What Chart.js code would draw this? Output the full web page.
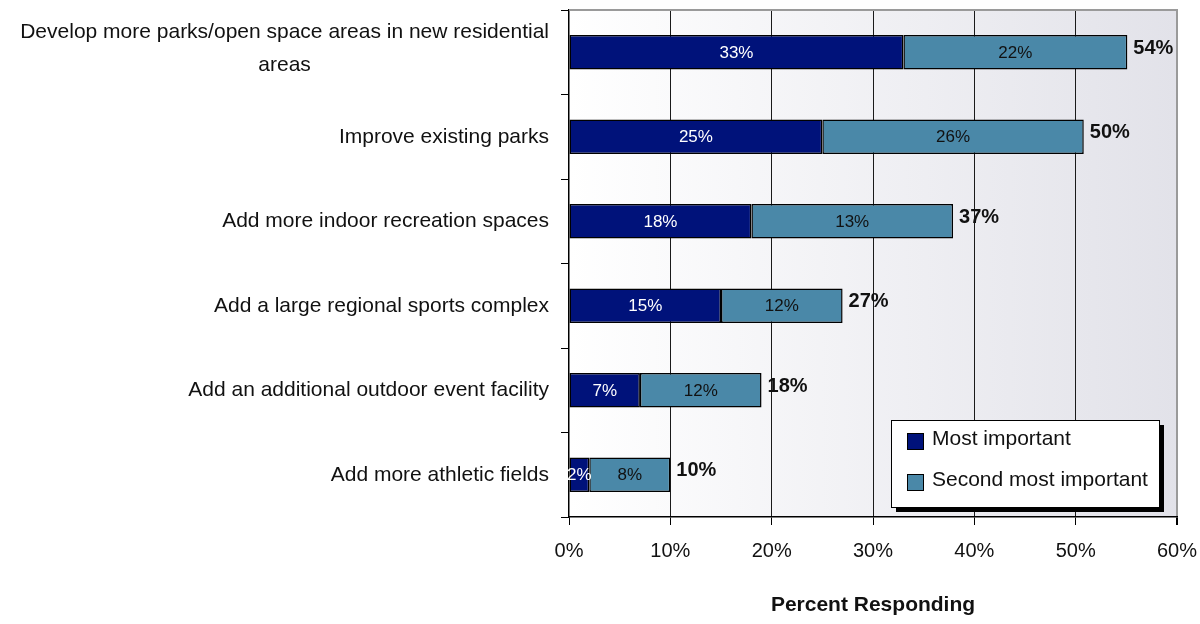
<!DOCTYPE html>
<html><head><meta charset="utf-8">
<script src="https://cdn.jsdelivr.net/npm/chart.js@4/dist/chart.umd.min.js"></script>
<style>html,body{margin:0;padding:0;background:#fff}#wrap{width:1200px;height:624px}</style>
</head><body><div id="wrap"><canvas id="c" width="1200" height="624"></canvas></div>
<script>
const categories = [
  ["Develop more parks/open space areas in new residential", "areas"],
  "Improve existing parks",
  "Add more indoor recreation spaces",
  "Add a large regional sports complex",
  "Add an additional outdoor event facility",
  "Add more athletic fields"
];
const seriesNames = ["Most important", "Second most important"];
const mostImportant = [33, 25, 18, 15, 7, 2];
const secondMost = [22.1, 25.8, 19.9, 12, 12, 8];
const mostLabels = ["33%", "25%", "18%", "15%", "7%", "2%"];
const secondLabels = ["22%", "26%", "13%", "12%", "12%", "8%"];
const totalLabels = ["54%", "50%", "37%", "27%", "18%", "10%"];
const xTickValues = [0, 10, 20, 30, 40, 50, 60];
const axisTitle = "Percent Responding";

const FONT = "'Liberation Sans', Arial, sans-serif";
const NAVY = "#00127a";
const TEAL = "#4a88a8";

const decor = {
  id: 'decor',
  beforeDraw(chart) {
    const {ctx, chartArea: a} = chart;
    const g = ctx.createLinearGradient(a.left, 0, a.right, 0);
    g.addColorStop(0, '#ffffff');
    g.addColorStop(1, '#e2e2e9');
    ctx.save();
    ctx.fillStyle = g;
    ctx.fillRect(a.left, a.top, a.right - a.left, a.bottom - a.top);
    ctx.restore();
  },
  afterDatasetsDraw(chart) {
    const {ctx} = chart;
    const m0 = chart.getDatasetMeta(0).data;
    const m1 = chart.getDatasetMeta(1).data;
    ctx.save();
    ctx.textBaseline = 'middle';
    m0.forEach((b, i) => {
      ctx.font = "17px " + FONT;
      ctx.textAlign = 'center';
      ctx.fillStyle = '#ffffff';
      ctx.fillText(mostLabels[i], (b.x + b.base) / 2, b.y + 1);
      const t = m1[i];
      ctx.fillStyle = '#111';
      ctx.fillText(secondLabels[i], (t.x + t.base) / 2, t.y + 1);
      ctx.font = "bold 20px " + FONT;
      ctx.textAlign = 'left';
      ctx.fillText(totalLabels[i], t.x + 6, t.y - 4);
    });
    ctx.restore();
  },
  afterDraw(chart) {
    const {ctx, chartArea: a} = chart;
    const ys = chart.scales.y;
    ctx.save();
    // top border
    ctx.strokeStyle = '#9a9a9a';
    ctx.lineWidth = 2;
    ctx.beginPath();
    ctx.moveTo(a.left, a.top);
    ctx.lineTo(a.right + 1, a.top);
    ctx.stroke();
    // category labels
    ctx.font = "21px " + FONT;
    ctx.fillStyle = '#111';
    ctx.textBaseline = 'middle';
    const rx = a.left - 20;
    categories.forEach((c, i) => {
      const y = ys.getPixelForValue(i);
      if (Array.isArray(c)) {
        const w1 = ctx.measureText(c[0]).width;
        const lh = 33;
        const y0 = y - 5 - lh * (c.length - 1) / 2 + 1;
        c.forEach((line, k) => {
          if (k === 0) { ctx.textAlign = 'right'; ctx.fillText(line, rx, y0); }
          else { ctx.textAlign = 'center'; ctx.fillText(line, rx - w1 / 2, y0 + k * lh); }
        });
      } else {
        ctx.textAlign = 'right';
        ctx.fillText(c, rx, y);
      }
    });
    // legend
    const lx = 891, ly = 420, lw = 268, lh2 = 87;
    ctx.fillStyle = '#000';
    ctx.fillRect(lx + 5, ly + 5, lw, lh2);
    ctx.fillStyle = '#fff';
    ctx.fillRect(lx, ly, lw, lh2);
    ctx.strokeStyle = '#000';
    ctx.lineWidth = 1;
    ctx.strokeRect(lx + 0.5, ly + 0.5, lw, lh2);
    const cols = [NAVY, TEAL];
    ctx.font = "21px " + FONT;
    ctx.textAlign = 'left';
    seriesNames.forEach((n, k) => {
      const yy = ly + 19 + k * 41;
      ctx.fillStyle = cols[k];
      ctx.fillRect(lx + 16, yy - 6, 17, 17);
      ctx.strokeStyle = '#000';
      ctx.strokeRect(lx + 16.5, yy - 5.5, 16, 16);
      ctx.fillStyle = '#111';
      ctx.fillText(n, lx + 41, yy);
    });
    ctx.restore();
  }
};

new Chart(document.getElementById('c'), {
  type: 'bar',
  data: {
    labels: categories,
    datasets: [
      { label: seriesNames[0], data: mostImportant, backgroundColor: NAVY, borderColor: '#000', borderWidth: 1.5, borderSkipped: false },
      { label: seriesNames[1], data: secondMost, backgroundColor: TEAL, borderColor: '#000', borderWidth: 1.5, borderSkipped: false }
    ]
  },
  options: {
    indexAxis: 'y',
    responsive: false,
    devicePixelRatio: 1,
    animation: false,
    events: [],
    layout: { padding: { top: 10, right: 23, bottom: 0, left: 0 } },
    datasets: { bar: { categoryPercentage: 1, barPercentage: 0.41 } },
    plugins: { legend: { display: false }, tooltip: { enabled: false }, title: { display: false } },
    scales: {
      x: {
        stacked: true,
        min: 0, max: 60,
        afterBuildTicks(s) { s.ticks = xTickValues.map(v => ({ value: v })); },
        afterFit(s) { s.height = 107; s.paddingRight = 0; s.paddingLeft = 0; },
        grid: {
          color: (c) => (c.tick && c.tick.value === 60) ? '#9a9a9a' : (c.tick && c.tick.value === 0 ? 'rgba(0,0,0,0)' : '#1a1a1a'),
          lineWidth: (c) => (c.tick && c.tick.value === 60) ? 2 : 1,
          tickColor: '#000',
          tickLength: 8
        },
        border: { color: '#000', width: 1.5 },
        ticks: {
          padding: 14,
          color: '#111',
          font: { family: FONT, size: 20 },
          callback: (v) => v + '%'
        },
        title: {
          display: true,
          text: axisTitle,
          color: '#111',
          font: { family: FONT, size: 21, weight: 'bold' },
          padding: { top: 0, bottom: 6 }
        }
      },
      y: {
        stacked: true,
        afterFit(s) { s.width = 569; },
        grid: { offset: true, drawOnChartArea: false, tickColor: '#000', tickLength: 8 },
        border: { color: '#000', width: 1.5 },
        ticks: { display: false }
      }
    }
  },
  plugins: [decor]
});
</script>
</body></html>
